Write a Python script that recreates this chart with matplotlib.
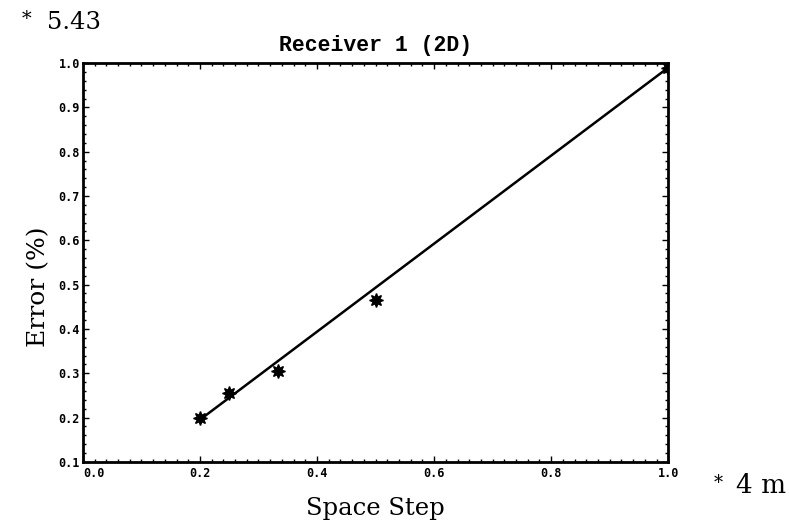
import matplotlib
matplotlib.use("Agg")
import matplotlib.pyplot as plt
from matplotlib.ticker import MultipleLocator

# measured points (space step, error)
step = [0.2, 0.25, 0.333, 0.5, 1.0]
error = [0.2, 0.255, 0.305, 0.465, 0.99]

# fitted line end points
fit_x = [0.205, 1.0]
fit_y = [0.2, 0.99]

x_ticks = [0.0, 0.2, 0.4, 0.6, 0.8, 1.0]
y_ticks = [0.1, 0.2, 0.3, 0.4, 0.5, 0.6, 0.7, 0.8, 0.9, 1.0]

plt.rcParams["font.family"] = ["DejaVu Serif"]

fig = plt.figure(figsize=(7.89, 5.26), dpi=100)
ax = fig.add_axes([0.105, 0.122, 0.742, 0.758])

ax.plot(fit_x, fit_y, color="black", lw=1.8, zorder=2)
ax.plot(step, error, linestyle="none", marker=(8, 1, 0), markersize=10,
        color="black", zorder=3)

ax.set_xlim(0.0, 1.0)
ax.set_ylim(0.1, 1.0)
ax.set_xticks(x_ticks)
ax.set_yticks(y_ticks)
ax.set_xticklabels([f"{v:.1f}" for v in x_ticks], fontweight="bold", fontsize=8.5,
                   family="DejaVu Sans Mono")
ax.set_yticklabels([f"{v:.1f}" for v in y_ticks], fontweight="bold", fontsize=8.5,
                   family="DejaVu Sans Mono")
# first x label sits just right of the corner, as in the original
ax.get_xticklabels()[0].set_horizontalalignment("left")
ax.xaxis.set_minor_locator(MultipleLocator(0.02))
ax.yaxis.set_minor_locator(MultipleLocator(0.02))
ax.tick_params(which="both", direction="in", top=True, right=True, width=1)
ax.tick_params(which="major", length=4)
ax.tick_params(axis="x", which="major", pad=4)
ax.tick_params(axis="y", which="major", pad=2)
ax.tick_params(which="minor", length=2)
for s in ax.spines.values():
    s.set_linewidth(2)

ax.set_title("Receiver 1 (2D)", fontsize=15.5, fontweight="bold",
             family="Liberation Mono", pad=9)
ax.set_ylabel("Error (%)", fontsize=18)
ax.yaxis.set_label_coords(-0.055, 0.44)
ax.set_xlabel("Space Step", fontsize=17.5, labelpad=12)

fig.text(0.028, 0.955, "*", fontsize=14, ha="left", va="baseline")
fig.text(0.06, 0.945, "5.43", fontsize=17.5, ha="left", va="baseline")
fig.text(0.905, 0.072, "*", fontsize=13, ha="left", va="baseline")
fig.text(0.933, 0.062, "4 m", fontsize=19, ha="left", va="baseline")

fig.savefig("out.png", dpi=100)
